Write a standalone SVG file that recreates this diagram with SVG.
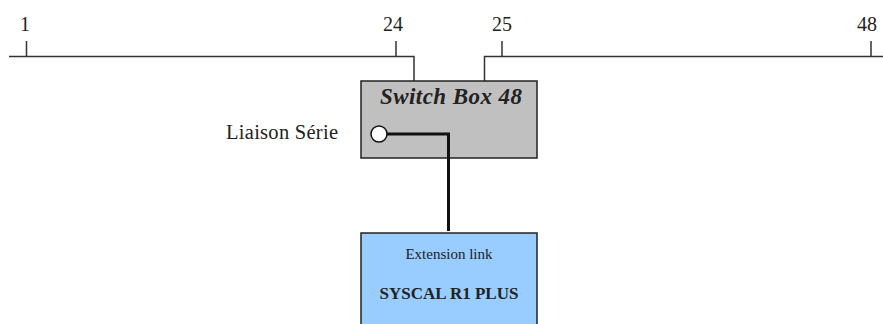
<svg xmlns="http://www.w3.org/2000/svg" width="883" height="324" viewBox="0 0 883 324">
<style>
text{font-family:'Liberation Serif',serif;fill:#222}
.ln{stroke:#333;stroke-width:1.5;fill:none}
.thick{stroke:#111;stroke-width:3;fill:none}
</style>
<rect width="883" height="324" fill="#fff"/>
<g id="ruler" font-family="Liberation Serif, serif">
<path class="ln" d="M9,56.5 H414 V81 M484.5,81 V56.5 H883"/>
<path class="ln" d="M26.5,41 V56.5 M396,41 V56.5 M502,41 V56.5 M871,41 V56.5"/>
<text x="25" y="31" font-size="20" text-anchor="middle">1</text>
<text x="393" y="31" font-size="20" text-anchor="middle">24</text>
<text x="502" y="31" font-size="20" text-anchor="middle">25</text>
<text x="867" y="31" font-size="20" text-anchor="middle">48</text>
</g>
<g id="switchbox" font-family="Liberation Serif, serif">
<rect x="361" y="81" width="176" height="77" fill="#c0c0c0" stroke="#222" stroke-width="1.5"/>
<text x="380" y="104" font-size="23" font-style="italic" font-weight="bold" textLength="142" lengthAdjust="spacing">Switch Box 48</text>
<circle cx="379" cy="134" r="8" fill="#fff" stroke="#111" stroke-width="1.5"/>
</g>
<g id="liaison" font-family="Liberation Serif, serif">
<text x="226" y="139" font-size="20.5" textLength="112" lengthAdjust="spacing">Liaison Série</text>
</g>
<g id="connectors">
<path class="thick" d="M387,134 H448.5 V231"/>
</g>
<g id="syscal" font-family="Liberation Serif, serif">
<rect x="361" y="233" width="176" height="100" fill="#99ccff" stroke="#222" stroke-width="1.5"/>
<text x="449" y="259" font-size="15" text-anchor="middle">Extension link</text>
<text x="449" y="299" font-size="17" font-weight="bold" text-anchor="middle">SYSCAL R1 PLUS</text>
</g>
</svg>
